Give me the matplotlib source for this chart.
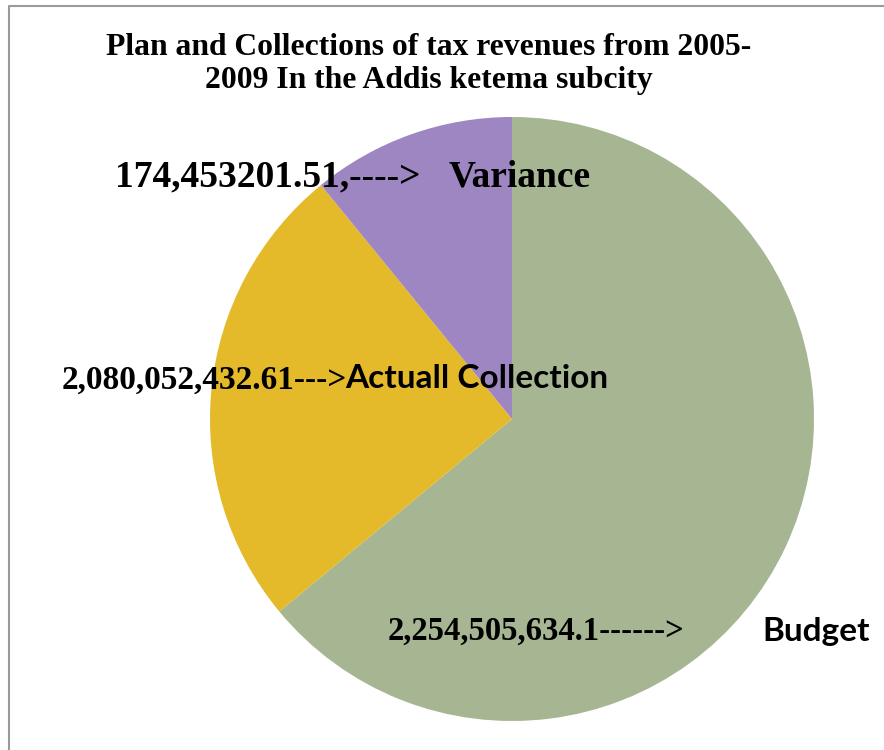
import matplotlib.pyplot as plt
from matplotlib.lines import Line2D

# slice shares as drawn in the chart (clockwise from 12 o'clock)
categories = ['Budget', 'Actuall Collection', 'Variance']
shares = [64.0, 25.1, 10.9]
colors = ['#A6B592', '#E5BA2A', '#9D86C1']

# label texts
budget_amount = '2,254,505,634.1------>'
actual_amount = '2,080,052,432.61--->'
variance_amount = '174,453201.51,---->'
title = 'Plan and Collections of tax revenues from 2005-\n2009 In the Addis ketema subcity'

W, H = 884, 750
cx, cy, r = 512, 419, 302

fig = plt.figure(figsize=(W / 100, H / 100), dpi=100)
ax = fig.add_axes([0, 0, 1, 1])

ax.pie(shares, colors=colors, startangle=90, counterclock=False,
       wedgeprops=dict(linewidth=0))

# map pixel positions of the reference onto pie units (radius 1)
ax.set_xlim(-cx / r, (W - cx) / r)
ax.set_ylim((cy - H) / r, cy / r)
ax.set_aspect('auto')
ax.axis('off')


def px(x, y):
    return (x - cx) / r, (cy - y) / r


serif = dict(family='Liberation Serif', weight='bold', color='black')
sans = dict(family='Lato', weight='bold', color='black')

# title
ax.text(*px(429, 64), title, ha='center', va='center', fontsize=22.8,
        linespacing=1.2, **serif)

# variance label
ax.text(*px(115, 177), variance_amount, ha='left', va='center', fontsize=27, **serif)
ax.text(*px(449, 177), categories[2], ha='left', va='center', fontsize=27, **serif)

# actual collection label
ax.text(*px(62, 380), actual_amount, ha='left', va='center', fontsize=24, **serif)
ax.text(*px(345, 379), categories[1], ha='left', va='center', fontsize=24, **sans)

# budget label
ax.text(*px(388, 631), budget_amount, ha='left', va='center', fontsize=23.5, **serif)
ax.text(*px(762, 631), categories[0], ha='left', va='center', fontsize=24, **sans)

# chart frame
fig.add_artist(Line2D([9 / W, 9 / W, 1], [0, 1 - 6 / H, 1 - 6 / H],
                      transform=fig.transFigure, color='#9a9a9a', linewidth=1.5))

fig.savefig('out.png', dpi=100)
